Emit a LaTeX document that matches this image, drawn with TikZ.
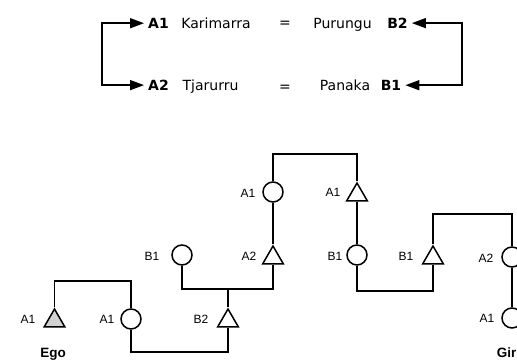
\documentclass[tikz,border=0pt]{standalone}
\usepackage{fontspec}
\setmainfont{Liberation Sans}
\newfontfamily\topfont{DejaVu Sans}
\usetikzlibrary{shapes.geometric,arrows.meta}
\begin{document}
\begin{tikzpicture}[x=1pt,y=-1pt,
  ln/.style={line width=1.5pt},
  circ/.style={circle,draw,line width=1.5pt,minimum size=20pt,inner sep=0pt},
  tri/.style={regular polygon,regular polygon sides=3,draw,line width=1.5pt,minimum size=24pt,inner sep=0pt},
  lab/.style={font=\fontsize{12}{14}\selectfont,inner sep=0pt},
  bigl/.style={font=\bfseries\fontsize{13.5}{15}\selectfont,inner sep=0pt,anchor=base},
  top/.style={font=\topfont\fontsize{14}{16}\selectfont,anchor=base,inner sep=0pt},
  topb/.style={top,font=\topfont\bfseries\fontsize{14}{16}\selectfont,inner xsep=4pt},
  arr/.style={line width=1.5pt,{Triangle[length=14pt,width=10pt]}-{Triangle[length=14pt,width=10pt]}}
]
\useasboundingbox (0,0) rectangle (517,363);
\clip (0,0) rectangle (517,363);
% ---- top scheme ----
\node[topb] (kA1) at (158.5,28.3) {A1};
\node[top] (kKar) at (216,28.3) {Karimarra};
\node[top,anchor=center] (kEq1) at (285,24) {=};
\node[top] (kPur) at (342.5,28.3) {Purungu};
\node[topb] (kB2) at (397.5,28.3) {B2};
\node[topb] (kA2) at (158.5,90.3) {A2};
\node[top] (kTja) at (210.5,90.3) {Tjarurru};
\node[top,anchor=center] (kEq2) at (285,88) {=};
\node[top] (kPan) at (345,90.3) {Panaka};
\node[topb] (kB1) at (391,90.3) {B1};
\coordinate (lx) at (102,0);
\coordinate (rx) at (462,0);
\draw[arr] (kA1.west) -- (kA1.west -| lx) -- (kA2.west -| lx) -- (kA2.west);
\draw[arr] (kB2.east) -- (kB2.east -| rx) -- (kB1.east -| rx) -- (kB1.east);
% ---- genealogy ----
\node[tri,fill=gray!35] (egoT) at (54.5,321) {};
\node[circ] (c1) at (131,319) {};
\node[tri] (b2T) at (228,321) {};
\node[circ] (b1C) at (182,255) {};
\node[tri] (a2T) at (273,258) {};
\node[circ] (a1C) at (273,192) {};
\node[tri] (a1T) at (357,195) {};
\node[circ] (b1Cb) at (357,255) {};
\node[tri] (b1T) at (433,258) {};
\node[circ] (a2C) at (512,257) {};
\node[circ] (a1Cb) at (512,318) {};
\coordinate (h1) at (0,281);
\coordinate (h2) at (0,352);
\coordinate (h3) at (0,289);
\coordinate (h4) at (0,154);
\coordinate (h5) at (0,291);
\coordinate (h6) at (0,214);
\draw[ln] (egoT.north) -- (egoT.north |- h1) -- (c1.north |- h1) -- (c1.north);
\draw[ln] (c1.south) -- (c1.south |- h2) -- (b2T.south |- h2) -- (b2T.south);
\draw[ln] (b1C.south) -- (b1C.south |- h3) -- (a2T.south |- h3) -- (a2T.south);
\draw[ln] (b2T.north) -- (b2T.north |- h3);
\draw[ln] (a2T.north) -- (a1C.south);
\draw[ln] (a1C.north) -- (a1C.north |- h4) -- (a1T.north |- h4) -- (a1T.north);
\draw[ln] (a1T.south) -- (b1Cb.north);
\draw[ln] (b1Cb.south) -- (b1Cb.south |- h5) -- (b1T.south |- h5) -- (b1T.south);
\draw[ln] (b1T.north) -- (b1T.north |- h6) -- (a2C.north |- h6) -- (a2C.north);
\draw[ln] (a2C.south) -- (a1Cb.north);
% labels
\node[lab] (l1) at (28,319) {A1};
\node[lab] (l2) at (107,319) {A1};
\node[lab] (l3) at (201,319) {B2};
\node[lab] (l4) at (152,256) {B1};
\node[lab] (l5) at (249,256) {A2};
\node[lab] (l6) at (248,193) {A1};
\node[lab] (l7) at (333,192) {A1};
\node[lab] (l8) at (335,256) {B1};
\node[lab] (l9) at (406,256) {B1};
\node[lab] (l10) at (486,258) {A2};
\node[lab] (l11) at (487,318) {A1};
\node[bigl] (ego) at (53,357.5) {Ego};
\node[bigl,anchor=base east] (girl) at (516.5,357.5) {Gir};
\end{tikzpicture}
\end{document}
